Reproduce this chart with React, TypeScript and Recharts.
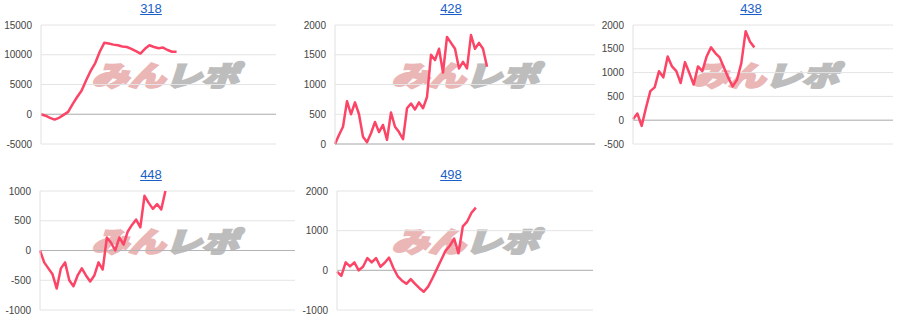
import { LineChart, Line, XAxis, YAxis, CartesianGrid, ReferenceLine } from "recharts";

const titles = ["318", "428", "438", "448", "498"];

const values318 = [
  0, -250, -600, -900, -600, -100, 400, 1700, 2900, 4000, 5700, 7300, 8600, 10500, 12000, 11900,
  11700, 11600, 11400, 11300, 11000, 10600, 10200, 11000, 11600, 11300, 11100, 11200, 10800, 10500, 10500,
];
const values428 = [
  0, 150, 290, 720, 500, 700, 500, 120, 30, 180, 370, 200, 320, 70, 530, 290, 200, 80, 600, 680,
  580, 700, 600, 790, 1500, 1410, 1600, 1200, 1800, 1700, 1600, 1270, 1380, 1270, 1830, 1600, 1700, 1600, 1300,
];
const values438 = [
  20, 140, -120, 260, 610, 690, 1030, 900, 1340, 1130, 1030, 780, 1220, 990, 750, 1130, 1030, 1340,
  1530, 1410, 1320, 1100, 890, 710, 850, 1200, 1870, 1650, 1530,
];
const values448 = [
  0, -200, -300, -400, -640, -300, -200, -500, -600, -420, -300, -420, -520, -420, -200, -320, 220,
  130, 0, 220, 100, 320, 430, 520, 390, 920, 800, 700, 780, 690, 1000,
];
const values498 = [
  -30, -140, 200, 100, 200, 0, 90, 310, 200, 310, 90, 190, 320, 60, -150, -260, -340, -220, -340,
  -450, -540, -410, -200, 30, 260, 490, 620, 800, 430, 1110, 1230, 1450, 1580,
];

const ticks318 = [-5000, 0, 5000, 10000, 15000];
const ticks428 = [0, 500, 1000, 1500, 2000];
const ticks438 = [-500, 0, 500, 1000, 1500, 2000];
const ticks448 = [-1000, -500, 0, 500, 1000];
const ticks498 = [-1000, 0, 1000, 2000];

// total x slots per panel (the day isn't over, so lines stop part way)
const slots = [52, 65, 60, 61, 59];

type PanelProps = {
  title: string;
  values: number[];
  ticks: number[];
  slotCount: number;
  left: number;
  top: number;
  yWidth: number;
  right: number;
};

const Panel = ({ title, values, ticks, slotCount, left, top, yWidth, right }: PanelProps) => {
  const data = values.map((v, i) => ({ x: i, v }));
  return (
    <div style={{ position: "absolute", left, top, width: 300, height: 160 }}>
      {/* watermark sits behind the svg */}
      <div
        style={{
          position: "absolute",
          left: 101,
          top: 58,
          whiteSpace: "nowrap",
          fontFamily: "'Noto Sans CJK JP'",
          fontWeight: 900,
          fontSize: 30,
          lineHeight: "34px",
          transform: "scale(1.22, 0.92) skewX(-14deg)",
          transformOrigin: "left top",
        }}
      >
        <span style={{ color: "#ebb6b6", WebkitTextStroke: "2.5px #ebb6b6" }}>みん</span>
        <span style={{ color: "#bdbdbd", WebkitTextStroke: "2.5px #bdbdbd" }}>レポ</span>
      </div>
      <a
        href="#"
        style={{
          position: "absolute",
          left: 0,
          width: 302,
          top: 1,
          textAlign: "center",
          fontFamily: "'Liberation Sans', Arial",
          fontSize: 13,
          color: "#1a5fc8",
        }}
      >
        {title}
      </a>
      <LineChart
        width={300}
        height={160}
        data={data}
        margin={{ top: 25, right, bottom: 16, left: 0 }}
        style={{ position: "absolute", left: 0, top: 0 }}
      >
        <CartesianGrid vertical={false} stroke="#e4e4e4" />
        <XAxis dataKey="x" type="number" domain={[0, slotCount]} hide />
        <YAxis
          width={yWidth}
          domain={[ticks[0], ticks[ticks.length - 1]]}
          ticks={ticks}
          interval={0}
          tickLine={false}
          tickSize={0}
          tickMargin={9}
          axisLine={{ stroke: "#e0e0e0" }}
          tick={{ fill: "#444", fontSize: 10, fontFamily: "'Liberation Sans', Arial" }}
        />
        <ReferenceLine y={0} stroke="#b4b4b4" />
        <Line
          dataKey="v"
          stroke="#fc4566"
          strokeWidth={2.5}
          dot={false}
          isAnimationActive={false}
          strokeLinejoin="round"
        />
      </LineChart>
    </div>
  );
};

const App = () => {
  return (
    <div style={{ position: "absolute", left: 0, top: 0, width: 900, height: 330, background: "#fff" }}>
      <Panel title={titles[0]} values={values318} ticks={ticks318} slotCount={slots[0]} left={0} top={0} yWidth={41} right={24} />
      <Panel title={titles[1]} values={values428} ticks={ticks428} slotCount={slots[1]} left={300} top={0} yWidth={35} right={5} />
      <Panel title={titles[2]} values={values438} ticks={ticks438} slotCount={slots[2]} left={600} top={0} yWidth={33} right={7} />
      <Panel title={titles[3]} values={values448} ticks={ticks448} slotCount={slots[3]} left={0} top={166} yWidth={40} right={5} />
      <Panel title={titles[4]} values={values498} ticks={ticks498} slotCount={slots[4]} left={300} top={166} yWidth={37} right={7} />
    </div>
  );
};

export default App;
